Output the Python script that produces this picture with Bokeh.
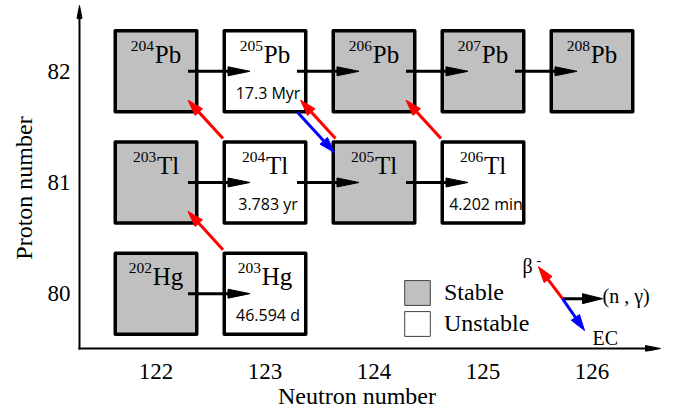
import math
from bokeh.plotting import figure
from bokeh.models import FixedTicker, Legend, LegendItem
from bokeh.core.properties import value
from bokeh.embed import file_html
from bokeh.resources import INLINE

# ---------------- data ----------------
nuclide_names = ["204Pb", "205Pb", "206Pb", "207Pb", "208Pb",
                 "203Tl", "204Tl", "205Tl", "206Tl",
                 "202Hg", "203Hg"]
neutron_numbers = [122, 123, 124, 125, 126, 122, 123, 124, 125, 122, 123]
proton_numbers = [82, 82, 82, 82, 82, 81, 81, 81, 81, 80, 80]
mass_numbers = ["204", "205", "206", "207", "208", "203", "204", "205", "206", "202", "203"]
element_symbols = ["Pb", "Pb", "Pb", "Pb", "Pb", "Tl", "Tl", "Tl", "Tl", "Hg", "Hg"]
is_stable = [True, False, True, True, True, True, False, True, False, True, False]
half_lives = ["", "17.3 Myr", "", "", "", "", "3.783 yr", "", "4.202 min", "", "46.594 d"]

neutron_capture = [("204Pb", "205Pb"), ("205Pb", "206Pb"), ("206Pb", "207Pb"),
                   ("207Pb", "208Pb"), ("203Tl", "204Tl"), ("204Tl", "205Tl"),
                   ("205Tl", "206Tl"), ("202Hg", "203Hg")]
beta_minus = [("204Tl", "204Pb"), ("203Hg", "203Tl"), ("206Tl", "206Pb"), ("205Tl", "205Pb")]
electron_capture = [("205Pb", "205Tl")]

x_tick_values = [122, 123, 124, 125, 126]
y_tick_values = [80, 81, 82]
x_axis_label = "Neutron number"
y_axis_label = "Proton number"
legend_labels = ["Stable", "Unstable"]
key_labels = ["β", "-", "(n , γ)", "EC"]

# ---------------- layout (pixel geometry) ----------------
W, H = 681, 411
FL, FR, FT, FB = 74, 0, 0, 59
FW, FH = W - FL - FR, H - FT - FB
PXU, PYU = 109.0, 111.5          # pixels per unit
X0 = 122 - (155.5 - FL) / PXU
Y0 = 80 - (FH - 294) / PYU
X1 = X0 + FW / PXU
Y1 = Y0 + FH / PYU
PX, PY = 1.0 / PXU, 1.0 / PYU
BL = 0.34                        # baseline correction (fraction of font size)


def cx(c):  # pixel x -> data
    return X0 + (c - FL) * PX


def cy(c):  # pixel y -> data
    return Y0 + (FT + FH - c) * PY


GREY = "#c0c0c0"
SERIF = "Liberation Serif"
NBSP = "\u00a0"

p = figure(width=W, height=H, x_range=(X0, X1), y_range=(Y0, Y1),
           output_backend="svg", toolbar_location=None,
           min_border_left=FL, min_border_right=FR,
           min_border_top=FT, min_border_bottom=FB,
           background_fill_color="white", border_fill_color="white")
p.outline_line_color = None
p.grid.visible = False

p.xaxis.ticker = FixedTicker(ticks=x_tick_values)
p.yaxis.ticker = FixedTicker(ticks=y_tick_values)
for ax in (p.xaxis, p.yaxis):
    ax.axis_line_color = None
    ax.major_tick_line_color = None
    ax.minor_tick_line_color = None
    ax.major_tick_out = 0
    ax.major_tick_in = 0
    ax.major_label_text_font = SERIF
    ax.major_label_text_font_size = "23px"
    ax.major_label_text_color = "black"
    ax.axis_label_text_font = SERIF
    ax.axis_label_text_font_size = "24px"
    ax.axis_label_text_font_style = "normal"
    ax.axis_label_text_color = "black"
p.xaxis.major_label_standoff = 12
p.yaxis.major_label_standoff = 4
p.xaxis.axis_label = x_axis_label + NBSP * 7
p.yaxis.axis_label = y_axis_label + NBSP * 4
p.xaxis.axis_label_standoff = 1
p.yaxis.axis_label_standoff = 8

idx = {n: i for i, n in enumerate(nuclide_names)}

# ---------------- boxes ----------------
fills = [GREY if s else "white" for s in is_stable]
p.rect(x=neutron_numbers, y=proton_numbers, width=81.5, height=81,
       width_units="screen", height_units="screen",
       fill_color=fills, line_color="black", line_width=3.5, line_join="round")


# ---------------- arrows ----------------
def arrow_geom(xa, ya, xb, yb, head_len, head_half):
    dxp = (xb - xa) * PXU
    dyp = (yb - ya) * PYU
    L = math.hypot(dxp, dyp)
    ux, uy = dxp / L, dyp / L
    bxp, byp = -ux * head_len, -uy * head_len
    nx, ny = -uy, ux
    hx = [xb, xb + (bxp + nx * head_half) * PX, xb + (bxp - nx * head_half) * PX]
    hy = [yb, yb + (byp + ny * head_half) * PY, yb + (byp - ny * head_half) * PY]
    ex = xb + bxp * 0.5 * PX
    ey = yb + byp * 0.5 * PY
    return (xa, ya, ex, ey), (hx, hy)


def draw_arrows(geoms, color, lw):
    segs = [g[0] for g in geoms]
    heads = [g[1] for g in geoms]
    p.segment(x0=[s[0] for s in segs], y0=[s[1] for s in segs],
              x1=[s[2] for s in segs], y1=[s[3] for s in segs],
              line_color=color, line_width=lw)
    p.patches(xs=[h[0] for h in heads], ys=[h[1] for h in heads],
              fill_color=color, line_color=color, line_width=1)


# axes (drawn as arrows)
AX, AY = cx(79), cy(349)
draw_arrows([arrow_geom(AX, cy(350), AX, cy(5), 13, 2.5),
             arrow_geom(cx(78), AY, cx(660), AY, 15, 3)], "black", 2)

black_geoms, red_geoms, blue_geoms = [], [], []
for a, b in neutron_capture:
    i, j = idx[a], idx[b]
    black_geoms.append(arrow_geom(neutron_numbers[i] + 32 * PX, proton_numbers[i],
                                  neutron_numbers[j] - 15 * PX, proton_numbers[j], 22, 4.5))
for a, b in beta_minus:
    i, j = idx[a], idx[b]
    shift = 3.5 * PX if (b, a) in electron_capture else 0.0
    red_geoms.append(arrow_geom(neutron_numbers[i] - 42 * PX + shift, proton_numbers[i] + 44 * PY,
                                neutron_numbers[j] + 32 * PX + shift, proton_numbers[j] - 29 * PY, 16, 5))
for a, b in electron_capture:
    i, j = idx[a], idx[b]
    blue_geoms.append(arrow_geom(neutron_numbers[i] + 32.5 * PX, proton_numbers[i] - 41 * PY,
                                 neutron_numbers[j] - 39.5 * PX, proton_numbers[j] + 30 * PY, 16, 5))

# key arrows
KX, KY = cx(562), cy(299)
black_geoms.append(arrow_geom(KX, KY, cx(602), cy(299), 20, 5))
red_geoms.append(arrow_geom(KX, KY, cx(538), cy(267), 16, 5))
blue_geoms.append(arrow_geom(KX, KY, cx(584), cy(331), 16, 5))

draw_arrows(black_geoms, "black", 3)
draw_arrows(red_geoms, "red", 3)
draw_arrows(blue_geoms, "blue", 3)

# ---------------- nuclide labels ----------------
SYM_FS, SUP_FS, HL_FS = 25, 15.5, 16
sym_width = {"Pb": 26.4, "Tl": 22.2, "Hg": 30.6}
sup_w = 24.0
sup_x, sym_x, sup_y, sym_y = [], [], [], []
for n, z, s in zip(neutron_numbers, proton_numbers, element_symbols):
    total = sup_w + sym_width[s]
    left = n - total / 2 * PX
    sup_x.append(left)
    sym_x.append(left + sup_w * PX)
    sup_y.append(z + (20 + BL * SUP_FS) * PY)
    sym_y.append(z + (8.3 + BL * SYM_FS) * PY)

p.text(x=sup_x, y=sup_y, text=mass_numbers, text_font=value(SERIF),
       text_font_size=f"{SUP_FS}px", text_align="left", text_baseline="alphabetic", text_color="black")
p.text(x=sym_x, y=sym_y, text=element_symbols, text_font=value(SERIF),
       text_font_size=f"{SYM_FS}px", text_align="left", text_baseline="alphabetic", text_color="black")

hl_x = [n + 3 * PX for n, h in zip(neutron_numbers, half_lives) if h]
hl_y = [z - (27 - BL * HL_FS) * PY for z, h in zip(proton_numbers, half_lives) if h]
hl_t = [h for h in half_lives if h]
p.text(x=hl_x, y=hl_y, text=hl_t, text_font=value("Open Sans"), text_font_size=f"{HL_FS}px",
       text_align="center", text_baseline="alphabetic", text_color="black")


# ---------------- key labels ----------------
def key_text(txt, left_px, base_px, fs):
    p.text(x=[cx(left_px)], y=[cy(base_px - BL * fs)], text=[txt], text_font=value(SERIF),
           text_font_size=f"{fs}px", text_align="left", text_baseline="alphabetic",
           text_color="black")


key_text(key_labels[0], 522, 273, 20)
key_text(key_labels[1], 536, 264.5, 14)
key_text(key_labels[2], 602, 303.5, 20)
key_text(key_labels[3], 592, 345, 20)

# ---------------- legend ----------------
r_stable = p.rect(x=[X0 - 10], y=[Y0 - 10], width=1, height=1,
                  fill_color=GREY, line_color="#404040", line_width=1)
r_unstable = p.rect(x=[X0 - 10], y=[Y0 - 10], width=1, height=1,
                    fill_color="white", line_color="#404040", line_width=1)
legend = Legend(items=[LegendItem(label=legend_labels[0], renderers=[r_stable]),
                       LegendItem(label=legend_labels[1], renderers=[r_unstable])],
                location=(327, 12), padding=0, margin=0, spacing=0,
                glyph_width=32, glyph_height=31, label_height=31, label_standoff=11,
                label_text_font=SERIF, label_text_font_size="24px", label_text_color="black",
                border_line_color=None, background_fill_alpha=0)
p.add_layout(legend)

open("out.html", "w").write(file_html(p, INLINE))
